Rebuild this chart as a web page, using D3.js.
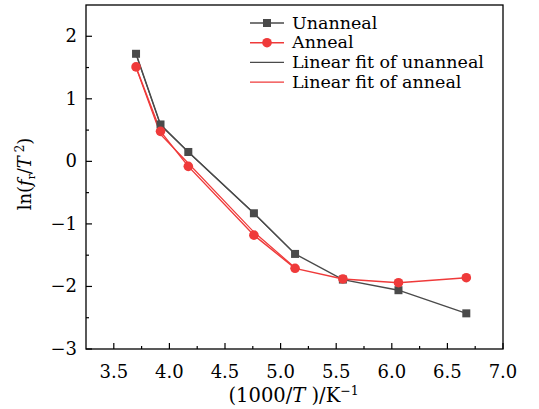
<!DOCTYPE html>
<html>
<head>
<meta charset="utf-8">
<script src="https://cdn.jsdelivr.net/npm/d3@7"></script>
<style>
  body { margin: 0; background: #fff; }
  text { font-family: "DejaVu Serif", "Liberation Serif", serif; }
</style>
</head>
<body>
<script>
// data
const invT = [3.70, 3.92, 4.17, 4.76, 5.13, 5.56, 6.06, 6.67];
const unanneal = [1.72, 0.59, 0.15, -0.83, -1.48, -1.89, -2.06, -2.43];
const anneal = [1.51, 0.48, -0.08, -1.18, -1.71, -1.88, -1.94, -1.86];
// fits (drawn only over the steep part)
const fitX = [3.70, 3.92, 4.17, 4.76, 5.13];
const fitUnanneal = [1.71, 0.58, 0.15, -0.83, -1.48];
const fitAnneal = [1.50, 0.43, -0.03, -1.13, -1.70];
const xTicks = [3.5, 4.0, 4.5, 5.0, 5.5, 6.0, 6.5, 7.0];
const yTicks = [-3, -2, -1, 0, 1, 2];

const W = 539, H = 409;
const margin = { top: 5, right: 36, bottom: 60, left: 86 };
const width = W - margin.left - margin.right;
const height = H - margin.top - margin.bottom;

const colors = { un: "#4a4a4a", an: "#ef3a3a" };

const svg = d3.select("body").append("svg")
  .attr("width", W).attr("height", H);
const g = svg.append("g")
  .attr("transform", `translate(${margin.left},${margin.top})`);

const x = d3.scaleLinear().domain([3.25, 7.0]).range([0, width]);
const y = d3.scaleLinear().domain([-3, 2.5]).range([height, 0]);

// frame
g.append("rect")
  .attr("width", width).attr("height", height)
  .attr("fill", "none").attr("stroke", "#000").attr("stroke-width", 1.3);

// x ticks (inward)
const xAxis = g.append("g").attr("transform", `translate(0,${height})`);
xAxis.selectAll(".maj").data(xTicks).enter().append("line")
  .attr("x1", d => x(d)).attr("x2", d => x(d))
  .attr("y1", 0).attr("y2", -6)
  .attr("stroke", "#000").attr("stroke-width", 1.2);
xAxis.selectAll(".min").data(d3.range(3.25, 7.0, 0.5).map(v => v + 0.5).filter(v => v < 7)).enter().append("line")
  .attr("x1", d => x(d)).attr("x2", d => x(d))
  .attr("y1", 0).attr("y2", -3)
  .attr("stroke", "#000").attr("stroke-width", 1.2);
xAxis.selectAll(".lab").data(xTicks).enter().append("text")
  .attr("x", d => x(d)).attr("y", 29)
  .attr("text-anchor", "middle").attr("font-size", 18)
  .text(d3.format(".1f"));

// y ticks (inward)
const yAxis = g.append("g");
yAxis.selectAll(".maj").data(yTicks).enter().append("line")
  .attr("x1", 0).attr("x2", 6)
  .attr("y1", d => y(d)).attr("y2", d => y(d))
  .attr("stroke", "#000").attr("stroke-width", 1.2);
yAxis.selectAll(".min").data([-2.5, -1.5, -0.5, 0.5, 1.5]).enter().append("line")
  .attr("x1", 0).attr("x2", 3)
  .attr("y1", d => y(d)).attr("y2", d => y(d))
  .attr("stroke", "#000").attr("stroke-width", 1.2);
yAxis.selectAll(".lab").data(yTicks).enter().append("text")
  .attr("x", -9).attr("y", d => y(d) + 6)
  .attr("text-anchor", "end").attr("font-size", 18)
  .text(d => d3.format("")(d));

// axis titles
const xt = svg.append("text")
  .attr("x", margin.left + x(5.0) + 13).attr("y", 402)
  .attr("text-anchor", "middle").attr("font-size", 19.5);
xt.append("tspan").text("(1000/");
xt.append("tspan").attr("font-style", "italic").text("T");
xt.append("tspan").text(" )/K");
xt.append("tspan").attr("dy", -7).attr("font-size", 12.5).text("−1");

const yt = svg.append("text")
  .attr("transform", `translate(31,174) rotate(-90)`)
  .attr("text-anchor", "middle").attr("font-size", 18);
yt.append("tspan").text("ln(");
yt.append("tspan").attr("font-style", "italic").text("f");
yt.append("tspan").attr("dy", 4).attr("font-size", 10.5).text("r");
yt.append("tspan").attr("dy", -4).text("/");
yt.append("tspan").attr("font-style", "italic").text("T");
yt.append("tspan").attr("dy", -7).attr("font-size", 12).text(" 2");
yt.append("tspan").attr("dy", 7).text(")");

// lines
const line = d3.line().x(d => x(d[0])).y(d => y(d[1]));
const pairs = (xs, ys) => xs.map((v, i) => [v, ys[i]]);

g.append("path").datum(pairs(fitX, fitUnanneal))
  .attr("d", line).attr("fill", "none")
  .attr("stroke", colors.un).attr("stroke-width", 1.2);
g.append("path").datum(pairs(fitX, fitAnneal))
  .attr("d", line).attr("fill", "none")
  .attr("stroke", colors.an).attr("stroke-width", 1.2);
g.append("path").datum(pairs(invT, unanneal))
  .attr("d", line).attr("fill", "none")
  .attr("stroke", colors.un).attr("stroke-width", 1.4);
g.append("path").datum(pairs(invT, anneal))
  .attr("d", line).attr("fill", "none")
  .attr("stroke", colors.an).attr("stroke-width", 1.4);

// markers
g.selectAll(".sq").data(pairs(invT, unanneal)).enter().append("rect")
  .attr("x", d => x(d[0]) - 4).attr("y", d => y(d[1]) - 4)
  .attr("width", 8).attr("height", 8).attr("fill", colors.un);
g.selectAll(".ci").data(pairs(invT, anneal)).enter().append("circle")
  .attr("cx", d => x(d[0])).attr("cy", d => y(d[1]))
  .attr("r", 4.8).attr("fill", colors.an);

// legend
const legend = svg.append("g").attr("transform", "translate(250,23)");
const items = [
  { label: "Unanneal", color: colors.un, marker: "sq" },
  { label: "Anneal", color: colors.an, marker: "ci" },
  { label: "Linear fit of unanneal", color: colors.un },
  { label: "Linear fit of anneal", color: colors.an }
];
items.forEach((it, i) => {
  const row = legend.append("g").attr("transform", `translate(0,${i * 19.7})`);
  row.append("line").attr("x1", 0).attr("x2", 34)
    .attr("stroke", it.color).attr("stroke-width", 1.4);
  if (it.marker === "sq") {
    row.append("rect").attr("x", 13).attr("y", -4).attr("width", 8).attr("height", 8).attr("fill", it.color);
  } else if (it.marker === "ci") {
    row.append("circle").attr("cx", 17).attr("r", 4.8).attr("fill", it.color);
  }
  row.append("text").attr("x", 42).attr("y", 5.5).attr("font-size", 17.5).text(it.label);
});
</script>
</body>
</html>
